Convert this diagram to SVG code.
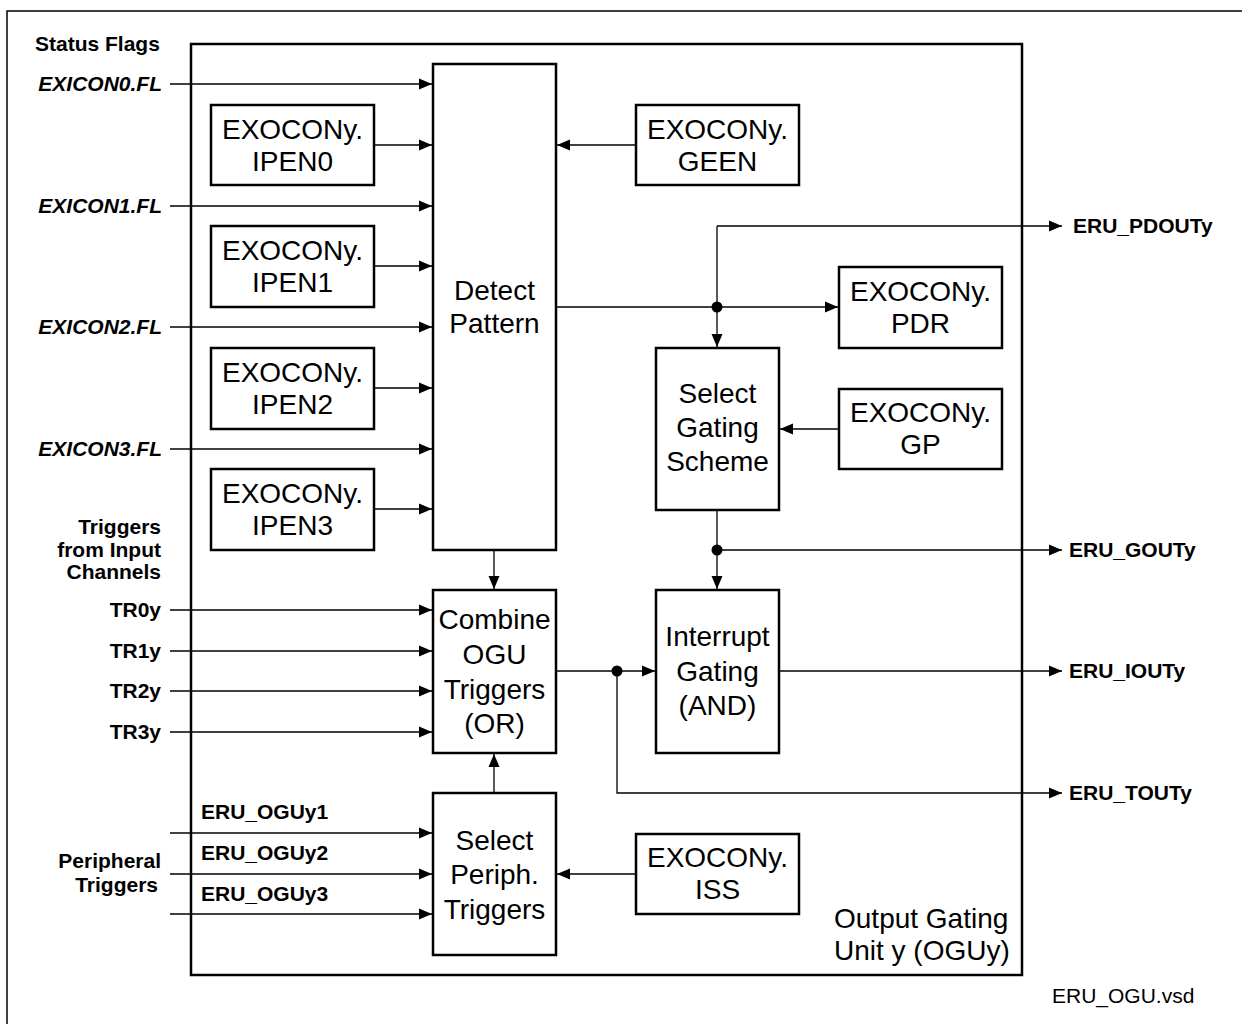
<svg xmlns="http://www.w3.org/2000/svg" width="1242" height="1024" viewBox="0 0 1242 1024">
<style>
.box{fill:#fff;stroke:#000;stroke-width:2.5}
.frame{fill:none;stroke:#000;stroke-width:2.5}
.c{fill:none;stroke:#000;stroke-width:1.3}
.ca{fill:none;stroke:#000;stroke-width:1.3;marker-end:url(#ah)}
.t{font-family:"Liberation Sans",Arial,sans-serif;font-size:28px;fill:#000;text-anchor:middle}
.lb{font-family:"Liberation Sans",Arial,sans-serif;font-size:21px;font-weight:bold;fill:#000}
.lbi{font-family:"Liberation Sans",Arial,sans-serif;font-size:21px;font-weight:bold;font-style:italic;fill:#000;text-anchor:end}
.r{text-anchor:end}
</style>
<defs>
<marker id="ah" markerUnits="userSpaceOnUse" markerWidth="14" markerHeight="12" refX="13" refY="6" orient="auto">
<path d="M0,0.5 L13,6 L0,11.5 z" fill="#000"/>
</marker>
</defs>
<rect width="1242" height="1024" fill="#fff"/>
<path d="M7,1024 L7,11 L1242,11" fill="none" stroke="#000" stroke-width="1.5"/>
<g id="ogu-frame">
<rect class="frame" x="191" y="44" width="831" height="931"/>
<text class="t" style="text-anchor:start" x="834" y="928">Output Gating</text>
<text class="t" style="text-anchor:start" x="834" y="960">Unit y (OGUy)</text>
</g>
<g id="labels">
<text class="lb" x="35" y="51">Status Flags</text>
<text class="lbi" x="162" y="91">EXICON0.FL</text>
<text class="lbi" x="162" y="213">EXICON1.FL</text>
<text class="lbi" x="162" y="334">EXICON2.FL</text>
<text class="lbi" x="162" y="456">EXICON3.FL</text>
<text class="lb r" x="161" y="534">Triggers</text>
<text class="lb r" x="161" y="557">from Input</text>
<text class="lb r" x="161" y="579">Channels</text>
<text class="lb r" x="161" y="617">TR0y</text>
<text class="lb r" x="161" y="658">TR1y</text>
<text class="lb r" x="161" y="698">TR2y</text>
<text class="lb r" x="161" y="739">TR3y</text>
<text class="lb r" x="161" y="868">Peripheral</text>
<text class="lb r" x="158" y="892">Triggers</text>
<text class="lb" x="201" y="819">ERU_OGUy1</text>
<text class="lb" x="201" y="860">ERU_OGUy2</text>
<text class="lb" x="201" y="901">ERU_OGUy3</text>
<text class="lb" x="1073" y="233">ERU_PDOUTy</text>
<text class="lb" x="1069" y="557">ERU_GOUTy</text>
<text class="lb" x="1069" y="678">ERU_IOUTy</text>
<text class="lb" x="1069" y="800">ERU_TOUTy</text>
<text style="font-family:'Liberation Sans',Arial,sans-serif;font-size:21px" x="1052" y="1003">ERU_OGU.vsd</text>
</g>
<g id="ipen0"><rect class="box" x="211" y="105" width="163" height="80"/><text class="t" x="292.5" y="139">EXOCONy.</text><text class="t" x="292.5" y="171">IPEN0</text></g>
<g id="ipen1"><rect class="box" x="211" y="226" width="163" height="81"/><text class="t" x="292.5" y="260">EXOCONy.</text><text class="t" x="292.5" y="292">IPEN1</text></g>
<g id="ipen2"><rect class="box" x="211" y="348" width="163" height="81"/><text class="t" x="292.5" y="382">EXOCONy.</text><text class="t" x="292.5" y="414">IPEN2</text></g>
<g id="ipen3"><rect class="box" x="211" y="469" width="163" height="81"/><text class="t" x="292.5" y="503">EXOCONy.</text><text class="t" x="292.5" y="535">IPEN3</text></g>
<g id="detect"><rect class="box" x="433" y="64" width="123" height="486"/><text class="t" x="494.5" y="300">Detect</text><text class="t" x="494.5" y="333">Pattern</text></g>
<g id="geen"><rect class="box" x="636" y="105" width="163" height="80"/><text class="t" x="717.5" y="139">EXOCONy.</text><text class="t" x="717.5" y="171">GEEN</text></g>
<g id="pdr"><rect class="box" x="839" y="267" width="163" height="81"/><text class="t" x="920.5" y="301">EXOCONy.</text><text class="t" x="920.5" y="333">PDR</text></g>
<g id="gp"><rect class="box" x="839" y="389" width="163" height="80"/><text class="t" x="920.5" y="422">EXOCONy.</text><text class="t" x="920.5" y="454">GP</text></g>
<g id="selgate"><rect class="box" x="656" y="348" width="123" height="162"/><text class="t" x="717.5" y="403">Select</text><text class="t" x="717.5" y="437">Gating</text><text class="t" x="717.5" y="471">Scheme</text></g>
<g id="combine"><rect class="box" x="433" y="590" width="123" height="163"/><text class="t" x="494.5" y="629">Combine</text><text class="t" x="494.5" y="664">OGU</text><text class="t" x="494.5" y="699">Triggers</text><text class="t" x="494.5" y="733">(OR)</text></g>
<g id="intgate"><rect class="box" x="656" y="590" width="123" height="163"/><text class="t" x="717.5" y="646">Interrupt</text><text class="t" x="717.5" y="681">Gating</text><text class="t" x="717.5" y="715">(AND)</text></g>
<g id="selperiph"><rect class="box" x="433" y="793" width="123" height="162"/><text class="t" x="494.5" y="850">Select</text><text class="t" x="494.5" y="884">Periph.</text><text class="t" x="494.5" y="919">Triggers</text></g>
<g id="iss"><rect class="box" x="636" y="834" width="163" height="80"/><text class="t" x="717.5" y="867">EXOCONy.</text><text class="t" x="717.5" y="899">ISS</text></g>
<g id="connectors">
<path class="ca" d="M170,84 L432,84"/>
<path class="ca" d="M374,145 L432,145"/>
<path class="ca" d="M170,206 L432,206"/>
<path class="ca" d="M374,266 L432,266"/>
<path class="ca" d="M170,327 L432,327"/>
<path class="ca" d="M374,388 L432,388"/>
<path class="ca" d="M170,449 L432,449"/>
<path class="ca" d="M374,509 L432,509"/>
<path class="ca" d="M636,145 L557,145"/>
<path class="ca" d="M557,307 L838,307"/>
<path class="ca" d="M717,226 L717,347"/>
<path class="ca" d="M717,226 L1062,226"/>
<circle cx="717" cy="307" r="5.5"/>
<path class="ca" d="M839,429 L780,429"/>
<path class="ca" d="M717,510 L717,589"/>
<path class="ca" d="M717,550 L1062,550"/>
<circle cx="717" cy="550" r="5.5"/>
<path class="ca" d="M494,550 L494,589"/>
<path class="ca" d="M170,610 L432,610"/>
<path class="ca" d="M170,651 L432,651"/>
<path class="ca" d="M170,691 L432,691"/>
<path class="ca" d="M170,732 L432,732"/>
<path class="ca" d="M557,671 L655,671"/>
<circle cx="617" cy="671" r="5.5"/>
<path class="ca" d="M617,671 L617,793 L1062,793"/>
<path class="ca" d="M780,671 L1062,671"/>
<path class="ca" d="M494,793 L494,754"/>
<path class="ca" d="M170,833 L432,833"/>
<path class="ca" d="M170,874 L432,874"/>
<path class="ca" d="M170,914 L432,914"/>
<path class="ca" d="M636,874 L557,874"/>
</g>
</svg>
